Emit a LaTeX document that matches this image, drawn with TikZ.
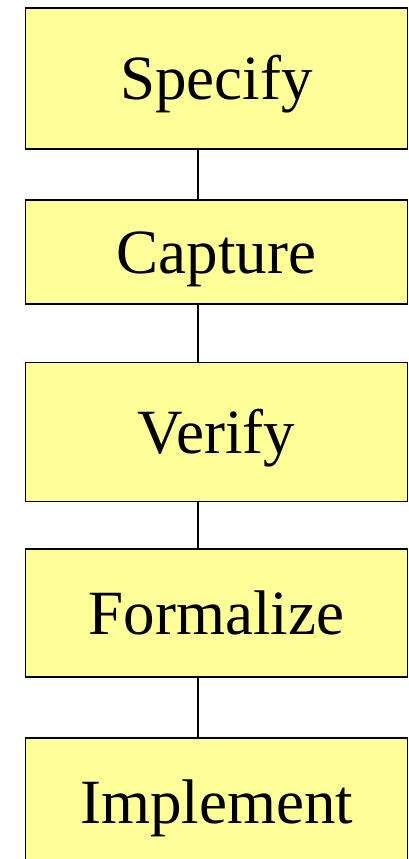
\documentclass[tikz,border=0pt]{standalone}
\usepackage{fontspec}
\setmainfont{Liberation Serif}
\usetikzlibrary{positioning}
\definecolor{stagefill}{RGB}{255,255,153}

\begin{document}
\begin{tikzpicture}[
    x=1pt, y=-1pt,
    stage/.style={draw, line width=1.9pt, fill=stagefill, minimum width=382pt, inner xsep=0pt, inner ysep=0pt,
                  text height=42pt, text depth=0pt, outer sep=0pt, font=\fontsize{63}{70}\selectfont},
    link/.style={line width=1.9pt, black},
]
\useasboundingbox (0,0) rectangle (409,859);

% ── Stages ──
\node[stage, minimum height=141pt] (Specify) at (216.5, 78.5) {Specify};
\node[stage, minimum height=104pt] (Capture) at (216.5, 252) {Capture};
\node[stage, minimum height=139pt] (Verify) at (216.5, 432) {Verify};
\node[stage, minimum height=128pt] (Formalize) at (216.5, 613) {Formalize};
\node[stage, minimum height=128pt] (Implement) at (216.5, 802) {Implement};

% ── Links (off centre, as in the original chart) ──
\draw[link] ([xshift=-18.8pt]Specify.south) -- ([xshift=-18.8pt]Capture.north);
\draw[link] ([xshift=-18.8pt]Capture.south) -- ([xshift=-18.8pt]Verify.north);
\draw[link] ([xshift=-18.8pt]Verify.south) -- ([xshift=-18.8pt]Formalize.north);
\draw[link] ([xshift=-18.8pt]Formalize.south) -- ([xshift=-18.8pt]Implement.north);

\end{tikzpicture}
\end{document}
